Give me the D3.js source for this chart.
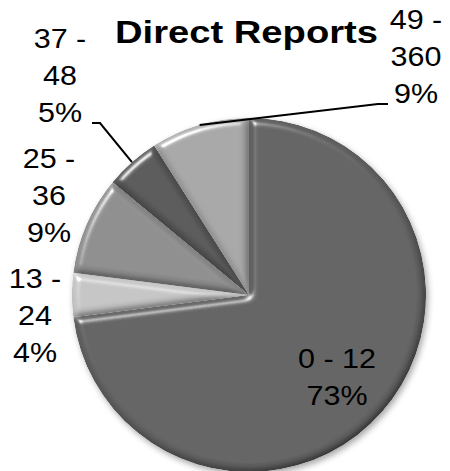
<!DOCTYPE html>
<html>
<head>
<meta charset="utf-8">
<script src="https://cdn.jsdelivr.net/npm/d3@7"></script>
<style>
  html, body { margin: 0; padding: 0; background: #fff; }
  svg { display: block; font-family: "Liberation Sans", Arial, sans-serif; }
</style>
</head>
<body>
<svg id="chart" width="450" height="471"></svg>
<script>
// Direct reports per manager, share of managers by bucket
const categories = ["0 - 12", "13 - 24", "25 - 36", "37 - 48", "49 - 360"];
const shares = [73, 4, 9, 5, 9];
const sliceColors = ["#626262", "#c6c6c6", "#8e8e8e", "#585858", "#a8a8a8"];
const title = "Direct Reports";

const W = 450, H = 471;
const cx = 249, cy = 295, R = 177;

const svg = d3.select("#chart");
const defs = svg.append("defs");

// soft bevel applied to each slice
const bevel = defs.append("filter").attr("id", "bevel")
  .attr("x", "-5%").attr("y", "-5%").attr("width", "110%").attr("height", "110%");
bevel.append("feGaussianBlur").attr("in", "SourceAlpha").attr("stdDeviation", 3.5).attr("result", "blur");
const spec = bevel.append("feSpecularLighting").attr("in", "blur")
  .attr("surfaceScale", 5).attr("specularConstant", 0.75).attr("specularExponent", 40)
  .attr("lighting-color", "#ffffff").attr("result", "spec");
spec.append("feDistantLight").attr("azimuth", 235).attr("elevation", 40);
bevel.append("feComposite").attr("in", "spec").attr("in2", "SourceAlpha").attr("operator", "in").attr("result", "specIn");
const diff = bevel.append("feDiffuseLighting").attr("in", "blur")
  .attr("surfaceScale", 4).attr("diffuseConstant", 1.0)
  .attr("lighting-color", "#ffffff").attr("result", "diff");
diff.append("feDistantLight").attr("azimuth", 235).attr("elevation", 60);
bevel.append("feComposite").attr("in", "SourceGraphic").attr("in2", "diff")
  .attr("operator", "arithmetic").attr("k1", 1.12).attr("k2", 0).attr("k3", 0).attr("k4", 0).attr("result", "shaded");
bevel.append("feComposite").attr("in", "shaded").attr("in2", "specIn")
  .attr("operator", "arithmetic").attr("k1", 0).attr("k2", 1).attr("k3", 1).attr("k4", 0).attr("result", "lit");
bevel.append("feComposite").attr("in", "lit").attr("in2", "SourceAlpha").attr("operator", "in");

// shadow under the whole pie
const shadow = defs.append("filter").attr("id", "pieShadow")
  .attr("x", "-10%").attr("y", "-10%").attr("width", "120%").attr("height", "120%");
shadow.append("feDropShadow").attr("dx", 2).attr("dy", 3).attr("stdDeviation", 3)
  .attr("flood-color", "#000").attr("flood-opacity", 0.35);

const pie = d3.pie().sort(null).value(d => d)
  .startAngle(0).endAngle(2 * Math.PI);
const arcs = pie(shares);
const arc = d3.arc().innerRadius(0).outerRadius(R);
const color = d3.scaleOrdinal().domain(categories).range(sliceColors);

const pieG = svg.append("g")
  .attr("transform", `translate(${cx},${cy})`)
  .attr("filter", "url(#pieShadow)");

pieG.selectAll("path.slice")
  .data(arcs)
  .join("path")
  .attr("class", "slice")
  .attr("d", arc)
  .attr("fill", (d, i) => color(categories[i]))
  .attr("filter", "url(#bevel)");

// title
svg.append("text")
  .attr("x", 115).attr("y", 43)
  .attr("font-size", 30.5).attr("font-weight", "bold")
  .attr("textLength", 263).attr("lengthAdjust", "spacingAndGlyphs")
  .attr("fill", "#000")
  .text(title);

// label placement: [centre x, first baseline] and whether the range is split over two lines
const labelLayout = [
  { x: 337, y: 368, split: false },
  { x: 35,  y: 288, split: true },
  { x: 49,  y: 168, split: true },
  { x: 60,  y: 48,  split: true },
  { x: 416, y: 29.5, split: true }
];
const lineGap = 37;

const labels = svg.append("g").attr("font-size", 28.5).attr("fill", "#000");
categories.forEach((cat, i) => {
  const L = labelLayout[i];
  const parts = cat.split(" - ");
  const lines = L.split ? [parts[0] + " -", parts[1]] : [cat];
  lines.push(shares[i] + "%");
  const g = labels.append("g").attr("transform", `translate(${L.x},0) scale(1.07,1)`);
  lines.forEach((t, k) => {
    g.append("text")
      .attr("x", 0).attr("y", L.y + k * lineGap)
      .attr("text-anchor", "middle")
      .text(t);
  });
});

// leader lines from the outside labels to their slices
const outerPoint = d => {
  const a = (d.startAngle + d.endAngle) / 2;
  return [cx + R * Math.sin(a), cy - R * Math.cos(a)];
};
const leader = d3.line();
const p37 = outerPoint(arcs[3]);
const p49 = outerPoint(arcs[4]);
svg.append("path")
  .attr("d", leader([[92, 123], [100, 123], p37]))
  .attr("fill", "none").attr("stroke", "#000").attr("stroke-width", 2);
svg.append("path")
  .attr("d", leader([p49, [378, 104], [388, 104]]))
  .attr("fill", "none").attr("stroke", "#000").attr("stroke-width", 2);
</script>
</body>
</html>
